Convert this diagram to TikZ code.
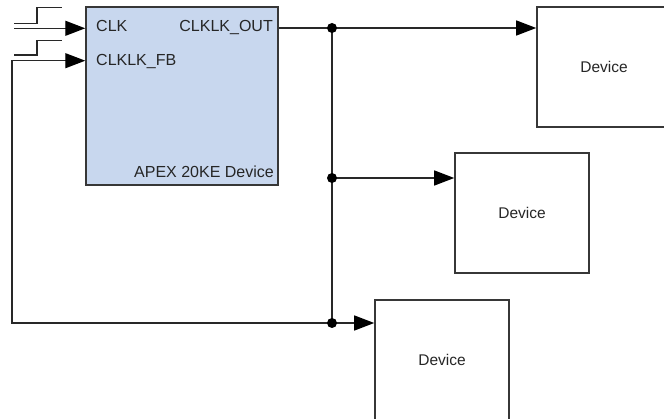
\documentclass[tikz,border=0pt]{standalone}
\usepackage{fontspec}
\setmainfont{Liberation Sans}
\usetikzlibrary{arrows.meta}
\definecolor{apexblue}{RGB}{200,215,238}
\definecolor{wire}{RGB}{40,40,40}
\definecolor{boxline}{RGB}{55,55,55}
\tikzset{
  wirestyle/.style={draw=wire,line width=1.3pt},
  arrowed/.style={wirestyle,-{Triangle[length=20pt,width=15pt,fill=black,color=black]}},
  devbox/.style={draw=boxline,line width=1.6pt,fill=white,minimum width=134pt,minimum height=120pt,inner sep=0pt,font=\fontsize{15.5}{17}\selectfont,text=black!85},
  apexbox/.style={draw=boxline,line width=1.5pt,fill=apexblue,minimum width=192pt,minimum height=178pt,inner sep=0pt},
  lbl/.style={inner sep=0pt,font=\fontsize{16}{18}\selectfont,text=black!85},
  junction/.style={circle,fill=black,inner sep=0pt,minimum size=10pt},
}
\begin{document}
\begin{tikzpicture}[x=1pt,y=-1pt]
\useasboundingbox (0,0) rectangle (664,419);
\begin{scope}
\clip (0,0) rectangle (664,419);
% APEX device
\node[apexbox] (apex) at (182,96) {};
\node[lbl,anchor=base west] (clklbl) at (96,32) {CLK};
\node[lbl,anchor=base east] (outlbl) at (273,32) {CLKLK\_OUT};
\node[lbl,anchor=base west] (fblbl) at (96,65.5) {CLKLK\_FB};
\node[lbl,anchor=base east] (apexlbl) at (274,178) {APEX 20KE Device};
% downstream devices
\node[devbox] (dev1) at (604,67) {Device};
\node[devbox] (dev2) at (522,213) {Device};
\node[devbox] (dev3) at (442,360) {Device};
% junctions
\coordinate (dot1) at (332,28);
\coordinate (dot2) at (332,178);
\coordinate (dot3) at (332,323);
% input pulse glyphs
\draw[wirestyle] (14,23.3) -- (37,23.3) -- (37,7.3) -- (62,7.3);
\draw[wirestyle] (14,55) -- (37,55) -- (37,40.7) -- (62,40.7);
% clock input
\coordinate (clkin) at (14,28.3);
\draw[arrowed] (clkin) -- (clkin -| apex.west);
% output network
\draw[wirestyle] (apex.east |- dot1) -- (dot1);
\draw[arrowed] (dot1) -- (dot1 -| dev1.west);
\draw[wirestyle] (dot1) -- (dot3);
\draw[arrowed] (dot2) -- (dot2 -| dev2.west);
\draw[arrowed] (dot3) -- (dot3 -| dev3.west);
% feedback
\coordinate (fbturn) at (12,323);
\coordinate (fbport) at (apex.west |- 0,60.7);
\draw[arrowed] (dot3) -- (fbturn) |- (fbport);
\node[junction] at (dot1) {};
\node[junction] at (dot2) {};
\node[junction] at (dot3) {};
\end{scope}
\end{tikzpicture}
\end{document}
